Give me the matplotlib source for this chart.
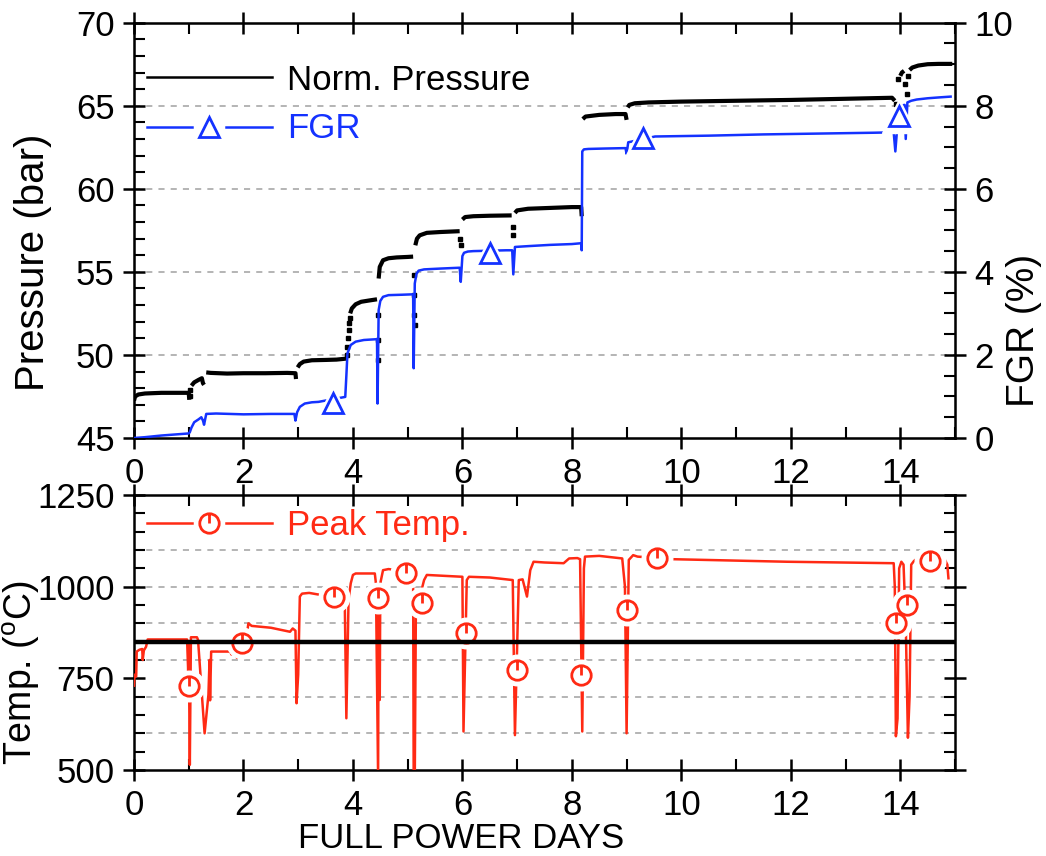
import numpy as np
import matplotlib
matplotlib.use('Agg')
import matplotlib.pyplot as plt
from matplotlib.ticker import MultipleLocator
from matplotlib.path import Path

plt.rcParams['font.family'] = ['Liberation Sans', 'DejaVu Sans']
plt.rcParams['mathtext.fontset'] = 'custom'
plt.rcParams['mathtext.rm'] = 'Liberation Sans'

# ---------------- data ----------------
NaN = np.nan
# normalised pressure (bar): flat segments separated by NaN
press_day = [0.0, 0.02, 0.08, 0.2, 0.5, 0.8, 1.0, 1.01, NaN,
             1.05, 1.1, 1.18, 1.24, 1.26, 1.28, NaN,
             1.32, 1.4, 1.7, 2.0, 2.4, 2.8, 2.95, 2.96, NaN,
             2.99, 3.03, 3.1, 3.25, 3.5, 3.7, 3.88, NaN,
             3.95, 3.98, 4.05, 4.15, 4.3, 4.44, NaN,
             4.47, 4.49, 4.55, 4.65, 4.8, 5.0, 5.1, NaN,
             5.14, 5.17, 5.22, 5.35, 5.6, 5.95, NaN,
             6.0, 6.05, 6.2, 6.5, 6.9, NaN,
             6.96, 7.0, 7.2, 7.6, 8.0, 8.17, 8.18, NaN,
             8.2, 8.25, 8.5, 8.8, 8.98, 9.0, NaN,
             9.02, 9.05, 9.15, 9.4, 10.0, 11.0, 12.0, 13.0, 13.85, 13.9, NaN,
             14.0, 14.03, 14.07, NaN,
             14.17, 14.22, 14.33, 14.5, 14.7, 14.95]
press_bar = [47.25, 47.5, 47.62, 47.68, 47.72, 47.72, 47.72, 47.3, NaN,
             48.15, 48.35, 48.5, 48.6, 48.3, 48.2, NaN,
             48.95, 48.92, 48.88, 48.9, 48.9, 48.92, 48.9, 48.55, NaN,
             49.25, 49.45, 49.6, 49.68, 49.7, 49.72, 49.78, NaN,
             52.5, 52.8, 53.05, 53.2, 53.28, 53.35, NaN,
             54.6, 55.3, 55.7, 55.82, 55.87, 55.9, 55.92, NaN,
             56.6, 57.0, 57.2, 57.35, 57.4, 57.45, NaN,
             58.15, 58.3, 58.35, 58.38, 58.4, NaN,
             58.55, 58.7, 58.8, 58.85, 58.9, 58.9, 58.35, NaN,
             64.2, 64.35, 64.45, 64.5, 64.5, 64.15, NaN,
             64.9, 65.05, 65.15, 65.2, 65.25, 65.3, 65.35, 65.42, 65.48, 65.3, NaN,
             66.8, 67.0, 67.1, NaN,
             67.15, 67.3, 67.42, 67.5, 67.52, 67.52]
# scattered pressure samples during transients
press_dot_day = [1.02, 1.03, 3.89, 3.9, 3.91, 3.92, 3.93, 3.94, 4.45, 4.45, 4.46,
                 5.11, 5.12, 5.12, 5.13, 5.96, 5.97, 6.92, 6.93,
                 13.93, 13.95, 14.09, 14.12, 14.14]
press_dot_bar = [47.5, 47.9, 50.0, 50.5, 51.0, 51.5, 51.9, 52.2, 52.4, 50.9, 49.7,
                 54.8, 53.6, 52.4, 51.8, 57.0, 56.6, 57.7, 57.2,
                 65.1, 66.6, 66.3, 65.7, 66.8]

# fission gas release (%)
fgr_day = [0.0, 0.2, 0.5, 0.8, 1.0, 1.02, 1.05, 1.1, 1.18, 1.23, 1.26, 1.28, 1.32,
           1.5, 2.0, 2.5, 2.93, 2.95, 2.98, 3.03, 3.12, 3.25, 3.37,
           3.86, 3.88, 3.9, 3.96, 4.05, 4.2, 4.44, 4.45, 4.47, 4.5, 4.55, 4.65,
           4.9, 5.1, 5.11, 5.13, 5.16, 5.2, 5.3, 5.6, 5.95, 5.97, 6.0, 6.03,
           6.1, 6.2, 6.8, 6.91, 6.93, 6.96, 7.2, 7.6, 8.0, 8.17, 8.18, 8.19,
           8.22, 8.3, 8.6, 8.98, 9.0, 9.03, 9.1, 9.52, 10.5, 11.5, 12.5, 13.5,
           13.88, 13.91, 13.94, 13.97, 14.0, 14.08, 14.1, 14.13, 14.2, 14.3,
           14.5, 14.7, 14.92]
fgr_pct = [0.0, 0.02, 0.06, 0.09, 0.11, 0.14, 0.25, 0.38, 0.45, 0.5, 0.42, 0.32, 0.58,
           0.59, 0.57, 0.58, 0.58, 0.42, 0.62, 0.75, 0.83, 0.86, 0.87,
           0.99, 1.5, 2.04, 2.24, 2.32, 2.36, 2.38, 0.83, 3.08, 3.3, 3.4, 3.44,
           3.45, 3.46, 1.68, 3.72, 3.95, 4.03, 4.06, 4.08, 4.1, 3.76, 4.38, 4.46,
           4.49, 4.5, 4.52, 4.52, 3.94, 4.6, 4.62, 4.65, 4.67, 4.69, 4.52, 6.9,
           6.95, 6.96, 6.97, 6.98, 6.84, 7.12, 7.14, 7.26, 7.28, 7.31, 7.33, 7.35,
           7.36, 6.9, 7.4, 7.76, 8.0, 8.02, 7.2, 8.08, 8.12, 8.15,
           8.18, 8.2, 8.22]
fgr_mark_day = [3.64, 6.50, 9.30, 13.97]
fgr_mark_pct = [0.85, 4.46, 7.22, 7.76]

# peak fuel temperature (deg C)
temp_day = [0.0, 0.01, 0.04, 0.05, 0.1, 0.15, 0.16, 0.18, 0.22, 0.25, 0.5, 0.97,
            0.99, 1.0, 1.02, 1.04, 1.15, 1.17, 1.29, 1.36, 1.38, 1.39, 1.41, 1.6,
            1.76, 1.78, 1.82, 1.88, 1.9, 2.05, 2.09, 2.15, 2.5, 2.85, 2.9, 2.95,
            2.97, 3.0, 3.03, 3.07, 3.2, 3.43, 3.85, 3.88, 3.92, 3.96, 4.0, 4.05,
            4.4, 4.42, 4.46, 4.47, 4.49, 4.5, 4.55, 4.65, 5.08, 5.1, 5.11, 5.13,
            5.15, 5.3, 5.35, 6.0, 6.02, 6.08, 6.12, 6.5, 6.92, 6.96, 7.03, 7.1,
            7.18, 7.24, 7.3, 7.5, 7.85, 7.95, 8.1, 8.15, 8.19, 8.22, 8.24, 8.5,
            8.92, 8.97, 9.0, 9.04, 9.12, 9.2, 9.83, 11.93, 13.88, 13.9, 13.92,
            13.95, 13.98, 14.02, 14.06, 14.1, 14.14, 14.17, 14.2, 14.25, 14.31,
            14.75, 14.82, 14.86, 14.88]
temp_c = [730, 760, 755, 823, 828, 830, 800, 826, 836, 856, 856, 856,
          770, 850, 514, 862, 862, 855, 600, 705, 800, 690, 823, 823,
          823, 815, 830, 806, 845, 855, 900, 893, 888, 877, 886, 880,
          682, 760, 973, 981, 983, 977, 968, 641, 964, 1009, 1032, 1036,
          1036, 1009, 480, 1000, 691, 1009, 1045, 1048, 1040, 1018, 480, 480,
          930, 1018, 1032, 1027, 605, 1018, 1027, 1025, 1018, 595, 1018, 1020,
          973, 1045, 1068, 1066, 1064, 1077, 1078, 1075, 605, 1050, 1082, 1084,
          1077, 1000, 600, 1073, 1086, 1082, 1075, 1068, 1064, 1000, 592,
          640, 1050, 1068, 1060, 900, 588, 700, 1060, 1070, 1077,
          1072, 1072, 1060, 1023]
temp_mark_day = [1.01, 1.97, 3.66, 4.45, 4.97, 5.26, 6.06, 6.99, 8.17, 9.0,
                 9.55, 13.92, 14.12, 14.54]
temp_mark_c = [729, 847, 973, 968, 1036, 956, 873, 773, 759, 936,
               1077, 900, 950, 1070]
temp_limit = 850

# ---------------- style ----------------
BLUE = '#1432ff'
RED = '#ff2a14'
FS = 25
GRID = dict(color='#a0a0a0', lw=1.1, ls=(0, (4, 4)))

circ = Path.unit_circle()
tick = Path([[0, 1.0], [0, 0]], [Path.MOVETO, Path.LINETO])
power_marker = Path.make_compound_path(circ, tick)

fig = plt.figure(figsize=(10.46, 8.56), dpi=100)
ax1 = fig.add_axes([0.1281, 0.4883, 0.7849, 0.4852])
axr = ax1.twinx()
ax2 = fig.add_axes([0.1281, 0.1005, 0.7849, 0.3212])


def style_ticks(ax, left=True, right=True, labelleft=True, labelright=False):
    ax.tick_params(which='major', direction='inout', length=16, width=1.8,
                   labelsize=FS, top=True, bottom=True, left=left, right=right,
                   labelleft=labelleft, labelright=labelright, pad=6)
    ax.tick_params(which='minor', direction='in', length=8, width=1.5,
                   top=True, bottom=True, left=left, right=right)
    for s in ax.spines.values():
        s.set_linewidth(1.8)


# ---------- top panel ----------
ax1.set_xlim(0, 15)
ax1.set_ylim(45, 70)
ax1.xaxis.set_major_locator(MultipleLocator(2))
ax1.xaxis.set_minor_locator(MultipleLocator(1))
ax1.yaxis.set_major_locator(MultipleLocator(5))
ax1.yaxis.set_minor_locator(MultipleLocator(1))
for g in [50, 55, 60, 65]:
    ax1.axhline(g, zorder=0, **GRID)
style_ticks(ax1, left=True, right=False)
ax1.plot(press_day, press_bar, color='k', lw=3.0, solid_capstyle='butt', zorder=3)
ax1.plot(press_dot_day, press_dot_bar, ls='none', marker='s', ms=3.5, color='k', zorder=3)
ax1.set_ylabel('Pressure (bar)', fontsize=29)
ax1.yaxis.set_label_coords(-0.10, 0.424)

axr.set_ylim(0, 10)
axr.yaxis.set_major_locator(MultipleLocator(2))
axr.yaxis.set_minor_locator(MultipleLocator(0.5))
axr.tick_params(which='major', direction='inout', length=16, width=1.8,
                labelsize=FS, right=True, left=False, labelright=True, pad=6)
axr.tick_params(which='minor', direction='in', length=8, width=1.5, right=True, left=False)
axr.plot(fgr_day, fgr_pct, color=BLUE, lw=1.8, zorder=3)
axr.plot(fgr_mark_day, fgr_mark_pct, ls='none', marker='^', ms=24, color='white',
         mec='white', zorder=4)
axr.plot(fgr_mark_day, fgr_mark_pct, ls='none', marker='^', ms=14, mfc='white',
         mec=BLUE, mew=2.0, zorder=5)
axr.set_ylabel('FGR (%)', fontsize=28, rotation=90)
axr.yaxis.set_label_coords(1.062, 0.26)

# legend (manual, to reproduce broken-line marker samples)
t1 = ax1.transAxes
ax1.plot([0.016, 0.168], [0.870, 0.870], transform=t1, color='k', lw=1.8)
ax1.text(0.186, 0.838, 'Norm. Pressure', transform=t1, fontsize=FS, va='baseline')
ax1.plot([0.016, 0.0706], [0.7496, 0.7496], transform=t1, color=BLUE, lw=1.8)
ax1.plot([0.112, 0.168], [0.7496, 0.7496], transform=t1, color=BLUE, lw=1.8)
ax1.plot([0.0914], [0.7496], transform=t1, marker='^', ms=14, mfc='white',
         mec=BLUE, mew=2.0)
ax1.text(0.186, 0.7217, 'FGR', transform=t1, fontsize=FS, va='baseline', color=BLUE)

# ---------- bottom panel ----------
ax2.set_xlim(0, 15)
ax2.set_ylim(500, 1250)
ax2.xaxis.set_major_locator(MultipleLocator(2))
ax2.xaxis.set_minor_locator(MultipleLocator(1))
ax2.yaxis.set_major_locator(MultipleLocator(250))
ax2.yaxis.set_minor_locator(MultipleLocator(50))
for g in [600, 700, 800, 900, 1000, 1100]:
    ax2.axhline(g, zorder=0, **GRID)
style_ticks(ax2, left=True, right=True)
ax2.plot(temp_day, temp_c, color=RED, lw=1.8, zorder=3)
ax2.plot(temp_mark_day, temp_mark_c, ls='none', marker='o', ms=22, color='white',
         mec='white', zorder=4)
ax2.plot(temp_mark_day, temp_mark_c, ls='none', marker=power_marker, ms=14,
         mfc='white', mec=RED, mew=2.0, zorder=5)
ax2.axhline(temp_limit, color='k', lw=3.2, zorder=6)
ax2.set_ylabel('Temp. ($^{\\mathrm{o}}$C)', fontsize=27)
ax2.yaxis.set_label_coords(-0.112, 0.355)
ax2.set_xlabel('FULL POWER DAYS', fontsize=FS)
ax2.xaxis.label.set_va('center')
ax2.xaxis.set_label_coords(0.398, -0.25)

t2 = ax2.transAxes
ax2.plot([0.016, 0.0706], [0.897, 0.897], transform=t2, color=RED, lw=1.8)
ax2.plot([0.112, 0.168], [0.897, 0.897], transform=t2, color=RED, lw=1.8)
ax2.plot([0.0914], [0.897], transform=t2, marker=power_marker, ms=14, mfc='white',
         mec=RED, mew=2.0)
ax2.text(0.186, 0.8545, 'Peak Temp.', transform=t2, fontsize=FS, va='baseline', color=RED)

fig.savefig('out.png', dpi=100)
